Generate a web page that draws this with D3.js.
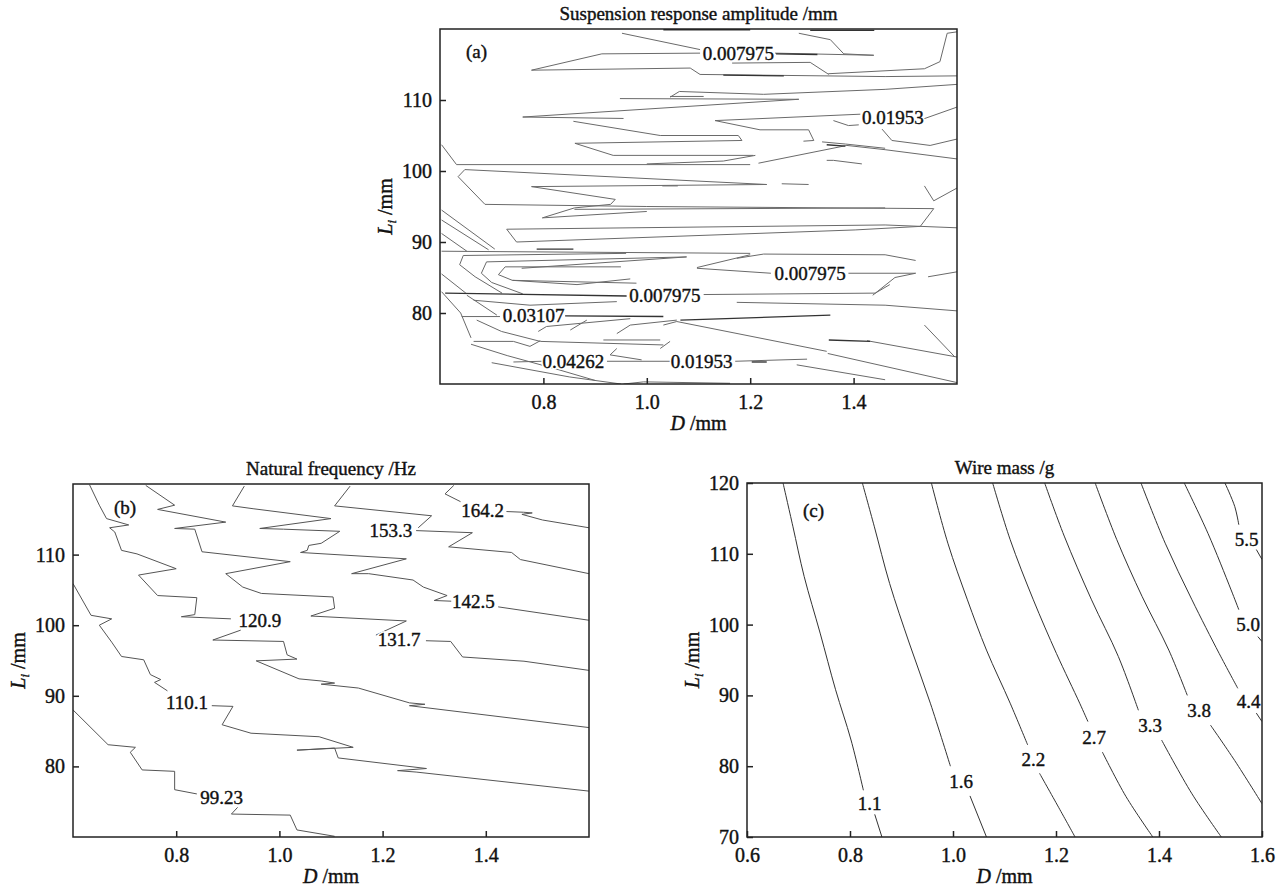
<!DOCTYPE html>
<html lang="en">
<head>
<meta charset="UTF-8">
<title>Contours</title>
<script src="https://d3js.org/d3.v7.min.js"></script>
<style>
  body { margin: 0; background: #fff; }
  text { font-family: 'Liberation Serif', 'Times New Roman', serif; fill: #111; }
</style>
</head>
<body>
<script>
// ---- axes ----
var dTicks = [0.8, 1.0, 1.2, 1.4];
var lTicks = [80, 90, 100, 110];
var dTicksC = [0.6, 0.8, 1.0, 1.2, 1.4, 1.6];
var lTicksC = [70, 80, 90, 100, 110, 120];

// ---- (a) suspension response amplitude: traced contour pieces [D, L] ----
var ampLines = [
  [[0.952,119.4],[1.103,117.1]],
  [[1.248,116.6],[1.439,116.3]],
  [[1.294,119.4],[1.355,118.5],[1.381,116.5],[1.439,116.3]],
  [[0.777,114.2],[0.913,116.5],[1.103,116.6]],
  [[0.777,114.2],[1.084,114.5],[1.103,113.6],[1.461,113.3],[1.6,113.4]],
  [[1.6,119.6],[1.581,119.4],[1.567,115.4],[1.537,114.4],[1.351,113.7]],
  [[1.165,115.2],[1.316,115.3],[1.352,113.6]],
  [[0.948,110.2],[1.294,110.1]],
  [[1.045,110.4],[1.063,111.2],[1.226,110.8],[1.461,111.5],[1.6,112.2]],
  [[1.045,110.5],[1.11,110.5]],
  [[0.76,107.6],[1.294,110.1]],
  [[0.76,107.6],[0.955,107.4]],
  [[0.858,107.0],[1.026,105.0],[1.177,105.0],[1.184,104.3],[0.861,103.9],[0.935,102.2],[1.206,102.2]],
  [[1.132,107.1],[1.413,108.0]],
  [[1.132,107.1],[1.219,105.8],[1.313,105.8],[1.323,104.3],[1.303,104.2]],
  [[1.361,107.1],[1.39,106.4],[1.41,106.5]],
  [[1.53,107.2],[1.6,109.0]],
  [[1.455,105.9],[1.474,104.3],[1.548,103.6],[1.6,104.5]],
  [[1.339,104.1],[1.384,103.8],[1.461,103.2]],
  [[1.216,101.1],[1.387,103.6],[1.461,103.0],[1.6,101.7]],
  [[0.603,103.7],[0.632,100.9],[1.2,100.9]],
  [[1.0,101.0],[1.148,101.4],[1.21,102.2]],
  [[1.348,101.5],[1.361,101.5],[1.416,101.0]],
  [[1.232,98.1],[0.648,100.2],[0.635,99.2],[0.687,95.3],[1.0,95.0],[1.555,94.7]],
  [[1.555,94.7],[1.529,92.2],[1.403,91.7]],
  [[1.537,97.9],[1.555,95.8],[1.6,97.6]],
  [[0.777,97.8],[1.232,98.1]],
  [[0.777,97.8],[0.939,96.0],[0.93,95.3],[0.86,94.8],[0.798,93.4],[1.0,94.3]],
  [[0.86,94.6],[1.461,94.8]],
  [[1.261,98.2],[1.313,98.1]],
  [[1.03,97.9],[1.06,97.9]],
  [[0.603,94.5],[0.706,89.0]],
  [[0.603,93.1],[0.694,88.9]],
  [[0.603,91.2],[0.652,88.7]],
  [[0.729,91.8],[0.748,90.0],[1.403,91.7]],
  [[0.729,91.8],[1.461,92.4],[1.6,92.0]],
  [[0.603,88.7],[1.2,88.4]],
  [[0.96,88.4],[0.645,88.1],[0.638,86.8],[0.668,85.1],[0.72,82.8]],
  [[1.077,87.9],[0.69,87.2],[0.68,85.6],[0.70,84.3],[0.76,82.7]],
  [[0.95,86.5],[0.726,86.5],[0.713,85.4],[0.74,84.6],[0.98,84.2]],
  [[0.758,86.3],[1.077,87.9]],
  [[0.74,84.6],[0.865,84.0],[0.968,84.8]],
  [[1.097,86.4],[1.2,88.2]],
  [[1.097,86.3],[1.24,85.6]],
  [[1.39,85.6],[1.52,85.6],[1.48,85.0],[1.437,82.5]],
  [[1.544,85.1],[1.6,85.8]],
  [[1.174,87.7],[1.226,88.3],[1.461,88.2],[1.52,87.4]],
  [[1.11,82.6],[1.442,82.8],[1.47,84.0]],
  [[0.642,79.5],[0.716,79.5]],
  [[0.652,82.5],[0.71,79.7]],
  [[0.665,81.8],[0.774,81.1],[0.942,81.6]],
  [[1.174,81.5],[1.461,81.1],[1.6,80.3]],
  [[0.671,79.0],[0.719,77.4],[0.794,76.0],[1.032,75.5]],
  [[0.79,77.4],[0.806,78.1],[0.968,79.2]],
  [[0.852,77.6],[0.884,79.0]],
  [[0.942,77.1],[0.968,78.3],[1.058,79.0]],
  [[1.032,78.3],[1.058,78.8],[1.348,74.6]],
  [[0.665,76.0],[0.742,76.0],[0.774,75.3],[0.794,76.1]],
  [[0.916,76.2],[1.026,76.2]],
  [[0.742,73.1],[0.797,73.2]],
  [[0.923,73.2],[1.045,73.2]],
  [[1.171,73.2],[1.31,73.5]],
  [[0.942,75.0],[0.929,74.1],[0.99,73.4]],
  [[1.026,75.0],[1.045,76.0]],
  [[0.955,70.0],[0.994,70.3],[1.161,70.1]],
  [[1.29,72.7],[1.461,70.6]],
  [[1.426,76.1],[1.6,73.8]],
  [[1.537,78.3],[1.596,73.8]],
  [[1.35,74.3],[1.6,70.2]],
  [[0.66,75.6],[0.73,74.0],[0.83,72.0],[0.9,70.5]],
  [[0.70,73.0],[0.85,71.0],[0.95,70.0]],
  [[0.603,83.0],[0.64,80.0],[0.66,76.5]],
  [[0.603,85.5],[0.65,82.8]]
];
// pieces where several contours pile up (drawn darker)
var ampDark = [
  [[1.032,119.9],[1.2,119.9]],
  [[1.316,119.8],[1.44,119.8]],
  [[1.25,116.5],[1.33,116.4]],
  [[1.148,113.5],[1.265,113.4]],
  [[1.348,103.7],[1.384,103.5]],
  [[0.787,89.0],[0.858,89.0]],
  [[0.61,82.8],[0.961,82.4]],
  [[0.842,79.6],[1.032,79.5]],
  [[1.065,79.0],[1.355,79.7]],
  [[1.352,76.2],[1.432,76.0]],
  [[1.203,73.1],[1.232,73.1]]
];
var ampLabels = [
  { t: "0.007975", d: 1.177, l: 116.6 },
  { t: "0.01953",  d: 1.476, l: 107.5 },
  { t: "0.007975", d: 1.316, l: 85.6 },
  { t: "0.007975", d: 1.035, l: 82.4 },
  { t: "0.03107",  d: 0.781, l: 79.7 },
  { t: "0.04262",  d: 0.858, l: 73.2 },
  { t: "0.01953",  d: 1.106, l: 73.2 }
];

// ---- (b) natural frequency ----
var freqLines = [
  [[0.6,88.0],[0.668,83.07],[0.721,82.7],[0.711,82.0],[0.734,79.5],[0.797,79.3],[0.797,76.7],[0.84,76.1]],
  [[0.919,74.2],[0.907,73.25],[1.021,73.1],[1.034,71.0],[1.107,70.1]],
  [[0.6,105.9],[0.635,101.4],[0.675,100.9],[0.651,100.0],[0.675,97.6],[0.694,95.57],[0.737,95.1],[0.75,93.0],[0.77,92.3],[0.758,91.9],[0.783,90.7]],
  [[0.869,88.6],[0.91,88.5],[0.889,85.9],[0.945,84.7],[1.077,84.2],[1.143,82.7],[1.034,82.3],[1.107,82.6],[1.114,81.2],[1.285,79.7],[1.229,79.4],[1.265,79.2],[1.6,76.5]],
  [[0.632,119.9],[0.651,117.0],[0.665,115.1],[0.708,114.2],[0.671,113.8],[0.681,113.2],[0.694,110.6],[0.724,110.1],[0.8,108.0],[0.727,107.1],[0.764,104.2],[0.84,103.9],[0.836,101.5],[0.81,101.2],[0.906,100.9]],
  [[0.925,99.3],[0.871,97.9],[1.008,97.7],[1.015,95.8],[1.034,95.2],[0.955,94.95],[1.038,92.4],[1.081,92.1],[1.107,91.8],[1.081,91.65],[1.153,91.1],[1.252,89.0],[1.282,88.8],[1.252,88.6],[1.6,85.5]],
  [[0.741,119.8],[0.797,117.0],[0.764,116.4],[0.896,114.6],[0.797,113.7],[0.836,113.6],[0.85,110.4],[1.021,109.0],[0.896,107.3],[0.929,105.4],[0.965,104.5],[1.104,104.0],[1.107,102.4],[1.061,101.3],[1.246,100.6],[1.187,98.6]],
  [[1.284,97.8],[1.332,97.7],[1.355,95.5],[1.474,94.9],[1.6,93.6]],
  [[0.932,119.7],[0.909,116.9],[0.949,116.5],[1.1,115.1],[0.962,113.7],[1.008,113.6],[1.117,113.3],[1.081,111.6],[1.057,111.3],[1.054,110.6],[1.041,110.3],[1.246,109.4],[1.14,107.3],[1.173,107.3],[1.259,106.4],[1.279,105.4],[1.325,104.2],[1.3,103.5],[1.333,103.4]],
  [[1.424,102.6],[1.6,100.7]],
  [[1.137,119.7],[1.107,116.9],[1.295,115.5],[1.269,113.8]],
  [[1.265,113.4],[1.374,113.1],[1.328,111.1],[1.45,110.3],[1.467,109.3],[1.6,107.3]],
  [[1.338,119.8],[1.321,118.6],[1.351,117.5]],
  [[1.44,116.1],[1.473,116.0],[1.49,115.9],[1.47,115.7],[1.51,114.9],[1.6,113.8]]
];
var freqLabels = [
  { t: "99.23", d: 0.888, l: 75.6 },
  { t: "110.1", d: 0.821, l: 89.0 },
  { t: "120.9", d: 0.962, l: 100.7 },
  { t: "131.7", d: 1.232, l: 97.9 },
  { t: "142.5", d: 1.376, l: 103.3 },
  { t: "153.3", d: 1.216, l: 113.4 },
  { t: "164.2", d: 1.394, l: 116.3 }
];

// ---- (c) wire mass ----
var massLines = [
  [[0.67,120],[0.689,113.9],[0.711,106.8],[0.742,98.8],[0.772,90.8],[0.802,83.7],[0.826,76.6]],
  [[0.848,73.2],[0.862,70]],
  [[0.824,120],[0.847,113.9],[0.877,105.8],[0.915,97.4],[0.956,88.9],[0.995,80.0]],
  [[1.033,75.8],[1.065,70]],
  [[0.958,120],[0.99,111.5],[1.028,103.5],[1.065,96.4],[1.111,88.9],[1.145,83.0]],
  [[1.168,79.0],[1.205,74.2],[1.237,70]],
  [[1.077,120],[1.111,112.0],[1.156,103.5],[1.201,95.9],[1.246,88.9],[1.262,86.3]],
  [[1.29,82.0],[1.336,75.7],[1.388,70]],
  [[1.178,120],[1.216,112.5],[1.269,103.5],[1.321,95.5],[1.36,87.9]],
  [[1.405,83.7],[1.464,76.1],[1.521,70]],
  [[1.276,120],[1.318,112.0],[1.367,104.0],[1.419,96.4],[1.455,90.0]],
  [[1.5,85.8],[1.547,80.8],[1.6,74.7]],
  [[1.365,120],[1.412,111.5],[1.464,103.5],[1.517,95.9],[1.553,91.0]],
  [[1.589,87.5],[1.6,86.3]],
  [[1.449,120],[1.495,112.9],[1.54,104.9],[1.555,102.1]],
  [[1.592,98.3],[1.6,97.6]],
  [[1.528,120],[1.547,116.7],[1.555,114.1]],
  [[1.589,110.6],[1.6,109.2]]
];
var massLabels = [
  { t: "1.1", d: 0.838, l: 74.7 },
  { t: "1.6", d: 1.016, l: 77.9 },
  { t: "2.2", d: 1.156, l: 80.9 },
  { t: "2.7", d: 1.274, l: 84.1 },
  { t: "3.3", d: 1.383, l: 85.8 },
  { t: "3.8", d: 1.478, l: 87.9 },
  { t: "4.4", d: 1.574, l: 89.1 },
  { t: "5.0", d: 1.573, l: 100.0 },
  { t: "5.5", d: 1.570, l: 112.0 }
];

var W = 1288, H = 894;
var FS = 19, TS = 20;
var INK = "#111", WEIGHT = 0.4;   // thin stroke to thicken the serif glyphs
var svg = d3.select("body").append("svg").attr("width", W).attr("height", H);
svg.append("rect").attr("width", W).attr("height", H).attr("fill", "#fff");

function ink(sel) {
  return sel.attr("fill", INK).attr("stroke", INK).attr("stroke-width", WEIGHT);
}

function drawPanel(id, box, o) {
  var x = d3.scaleLinear().domain([0.6, 1.6]).range([box.x0, box.x1]);
  var y = d3.scaleLinear().domain([70, 120]).range([box.y1, box.y0]);
  var g = svg.append("g");

  g.append("clipPath").attr("id", "clip" + id)
    .append("rect").attr("x", box.x0).attr("y", box.y0)
    .attr("width", box.x1 - box.x0).attr("height", box.y1 - box.y0);

  var line = d3.line()
    .x(function(p) { return x(p[0]); })
    .y(function(p) { return y(p[1]); })
    .curve(o.curve || d3.curveLinear);

  var plot = g.append("g").attr("clip-path", "url(#clip" + id + ")");
  plot.selectAll("path.c").data(o.lines).enter().append("path")
    .attr("d", line).attr("fill", "none")
    .attr("stroke", o.color).attr("stroke-width", o.width)
    .attr("stroke-linejoin", "round");
  if (o.dark) {
    plot.selectAll("path.d").data(o.dark).enter().append("path")
      .attr("d", line).attr("fill", "none")
      .attr("stroke", "#333").attr("stroke-width", 1.4);
  }
  // halo first, then the label itself
  plot.selectAll("text.halo").data(o.labels).enter().append("text")
    .attr("x", function(d) { return x(d.d); })
    .attr("y", function(d) { return y(d.l); })
    .attr("dy", "0.34em").attr("text-anchor", "middle").attr("font-size", FS)
    .attr("fill", "#fff").attr("stroke", "#fff").attr("stroke-width", 3.5)
    .text(function(d) { return d.t; });
  ink(plot.selectAll("text.lab").data(o.labels).enter().append("text")
    .attr("x", function(d) { return x(d.d); })
    .attr("y", function(d) { return y(d.l); })
    .attr("dy", "0.34em").attr("text-anchor", "middle").attr("font-size", FS)
    .text(function(d) { return d.t; }));

  // axes with inward ticks
  var ax = g.append("g").attr("transform", "translate(0," + box.y1 + ")")
    .call(d3.axisBottom(x).tickValues(o.xTicks).tickSize(-6).tickPadding(11)
      .tickFormat(d3.format(".1f")));
  var ay = g.append("g").attr("transform", "translate(" + box.x0 + ",0)")
    .call(d3.axisLeft(y).tickValues(o.yTicks).tickSize(-6).tickPadding(8)
      .tickFormat(d3.format("d")));
  [ax, ay].forEach(function(a) {
    a.select(".domain").remove();
    a.selectAll(".tick line").attr("stroke", "#222").attr("stroke-width", 1.5);
    ink(a.selectAll(".tick text").attr("font-size", TS)
      .attr("font-family", "'Liberation Serif', serif"));
  });

  g.append("rect").attr("x", box.x0).attr("y", box.y0)
    .attr("width", box.x1 - box.x0).attr("height", box.y1 - box.y0)
    .attr("fill", "none").attr("stroke", "#222").attr("stroke-width", 1.5);

  // panel tag
  ink(g.append("text").attr("x", box.x0 + o.tag[1]).attr("y", box.y0 + o.tag[2])
    .attr("font-size", FS).text(o.tag[0]));

  // title
  ink(g.append("text").attr("x", (box.x0 + box.x1) / 2).attr("y", box.y0 - 9)
    .attr("text-anchor", "middle").attr("font-size", FS).text(o.title));

  // x title
  var xt = ink(g.append("text").attr("x", (box.x0 + box.x1) / 2).attr("y", box.y1 + 46)
    .attr("text-anchor", "middle").attr("font-size", TS));
  xt.append("tspan").attr("font-style", "italic").text("D");
  xt.append("tspan").text(" /mm");

  // y title
  var yt = ink(g.append("text")
    .attr("transform", "translate(" + (box.x0 - 48) + "," + ((box.y0 + box.y1) / 2) + ") rotate(-90)")
    .attr("text-anchor", "middle").attr("font-size", TS));
  yt.append("tspan").attr("font-style", "italic").text("L");
  yt.append("tspan").attr("font-style", "italic").attr("font-size", 13).attr("dy", 4).text("i");
  yt.append("tspan").attr("dy", -4).text(" /mm");
}

drawPanel("a", { x0: 440, x1: 957, y0: 29, y1: 384 }, {
  lines: ampLines, dark: ampDark, labels: ampLabels,
  color: "#6a6a6a", width: 1,
  xTicks: dTicks, yTicks: lTicks,
  tag: ["(a)", 26, 29], title: "Suspension response amplitude /mm"
});
drawPanel("b", { x0: 73, x1: 589, y0: 484, y1: 837 }, {
  lines: freqLines, labels: freqLabels,
  color: "#555", width: 1,
  xTicks: dTicks, yTicks: lTicks,
  tag: ["(b)", 41, 30], title: "Natural frequency /Hz"
});
drawPanel("c", { x0: 747, x1: 1262, y0: 483, y1: 837 }, {
  lines: massLines, labels: massLabels,
  color: "#333", width: 1, curve: d3.curveCatmullRom,
  xTicks: dTicksC, yTicks: lTicksC,
  tag: ["(c)", 56, 34], title: "Wire mass /g"
});
</script>
</body>
</html>
